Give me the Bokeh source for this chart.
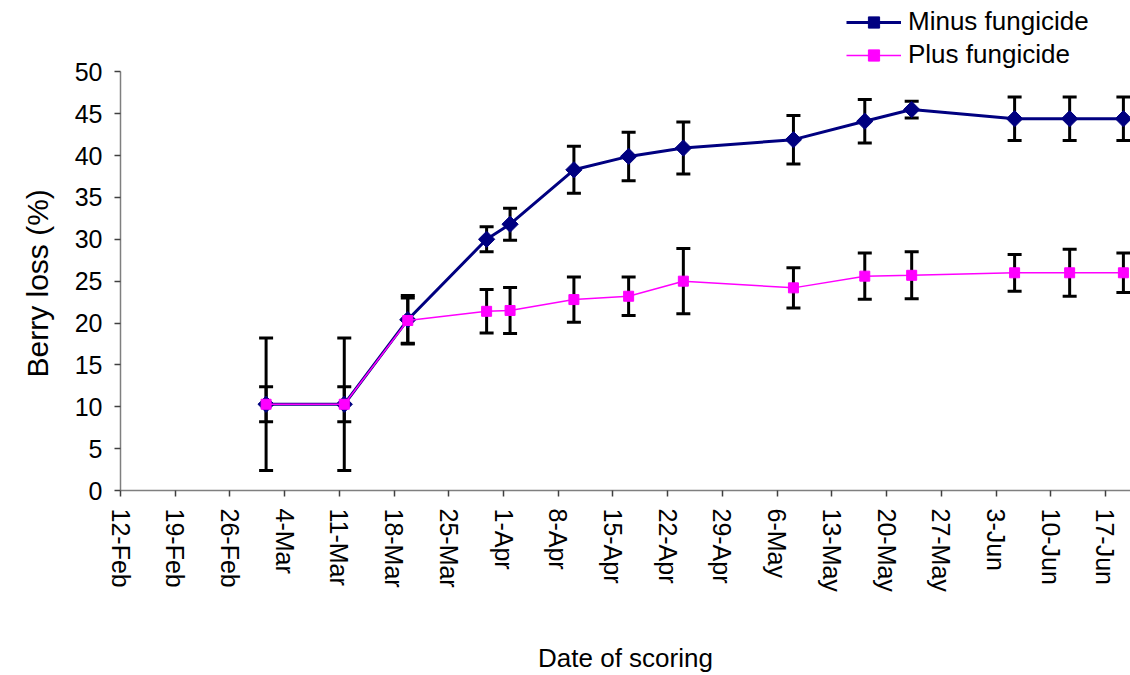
import pandas as pd
from bokeh.plotting import figure
from bokeh.models import (Range1d, FixedTicker, Whisker, TeeHead, ColumnDataSource,
                          Legend, LegendItem, Title)
from bokeh.embed import file_html
from bokeh.resources import INLINE

# ---------------- data ----------------
start_date = "2004-02-12"
dates = ["2004-03-01 15:00", "2004-03-11 15:00", "2004-03-19 18:00", "2004-03-29 20:00",
         "2004-04-01 20:00", "2004-04-10 00:00", "2004-04-17 00:00", "2004-04-24 00:00",
         "2004-05-08 02:00", "2004-05-17 05:00", "2004-05-23 05:00", "2004-06-05 09:00",
         "2004-06-12 10:00", "2004-06-19 07:00"]
minus_vals = [10.3, 10.3, 20.4, 30.0, 31.8, 38.3, 39.9, 40.9, 41.9, 44.1, 45.5, 44.4, 44.4, 44.4]
minus_err = [7.9, 7.9, 2.9, 1.5, 1.9, 2.8, 2.9, 3.1, 2.9, 2.6, 1.0, 2.6, 2.6, 2.6]
plus_vals = [10.3, 10.3, 20.3, 21.4, 21.5, 22.8, 23.2, 25.0, 24.2, 25.6, 25.7, 26.0, 26.0, 26.0]
plus_err = [2.1, 2.1, 2.7, 2.6, 2.75, 2.7, 2.3, 3.9, 2.4, 2.75, 2.8, 2.2, 2.8, 2.35]
tick_labels = ["12-Feb", "19-Feb", "26-Feb", "4-Mar", "11-Mar", "18-Mar", "25-Mar",
               "1-Apr", "8-Apr", "15-Apr", "22-Apr", "29-Apr", "6-May", "13-May",
               "20-May", "27-May", "3-Jun", "10-Jun", "17-Jun"]
y_ticks = [0, 5, 10, 15, 20, 25, 30, 35, 40, 45, 50]

# ---------------- derived ----------------
t0 = pd.Timestamp(start_date)
xd = [(pd.Timestamp(d) - t0).total_seconds() / 86400.0 for d in dates]
tick_days = [(pd.to_datetime(l + "-2004", format="%d-%b-%Y") - t0).days for l in tick_labels]

src = ColumnDataSource(dict(
    x=xd,
    minus=minus_vals,
    minus_lo=[v - e for v, e in zip(minus_vals, minus_err)],
    minus_hi=[v + e for v, e in zip(minus_vals, minus_err)],
    plus=plus_vals,
    plus_lo=[v - e for v, e in zip(plus_vals, plus_err)],
    plus_hi=[v + e for v, e in zip(plus_vals, plus_err)],
))

FONT = "Liberation Sans"
p = figure(width=1130, height=675, output_backend="svg", toolbar_location=None,
           x_range=Range1d(0, 129.2), y_range=Range1d(0, 58.52),
           min_border_left=119, min_border_right=0, min_border_top=0,
           min_border_bottom=185)
p.outline_line_color = None
p.xgrid.grid_line_color = None
p.ygrid.grid_line_color = None
p.background_fill_color = "white"
p.border_fill_color = "white"

# error bars
for lo, hi in (("minus_lo", "minus_hi"), ("plus_lo", "plus_hi")):
    w = Whisker(source=src, base="x", lower=lo, upper=hi, dimension="height",
                line_color="black", line_width=3,
                upper_head=TeeHead(size=14, line_width=3, line_color="black"),
                lower_head=TeeHead(size=14, line_width=3, line_color="black"))
    p.add_layout(w)

l1 = p.line("x", "minus", source=src, line_color="#000080", line_width=3)
s1 = p.scatter("x", "minus", source=src, marker="square", angle=0.785398, size=11.5,
               fill_color="#000080", line_color="#000080")
l2 = p.line("x", "plus", source=src, line_color="#FF00FF", line_width=1.5)
s2 = p.scatter("x", "plus", source=src, marker="square", size=10,
               fill_color="#FF00FF", line_color="#FF00FF")

legend = Legend(items=[LegendItem(label="Minus fungicide", renderers=[l1, s1]),
                       LegendItem(label="Plus fungicide", renderers=[l2, s2])],
                location=(726, 420), orientation="vertical",
                label_text_font=FONT, label_text_font_size="26px",
                label_text_color="black", glyph_width=55, glyph_height=28,
                label_height=28, label_standoff=7, spacing=2, padding=0, margin=0,
                border_line_color=None, background_fill_alpha=0)
p.add_layout(legend)

# axes
for ax in (p.xaxis[0], p.yaxis[0]):
    ax.axis_line_color = "#7f7f7f"
    ax.axis_line_width = 1.5
    ax.major_tick_line_color = "#404040"
    ax.major_tick_line_width = 1.5
    ax.major_tick_out = 6
    ax.major_tick_in = 0
    ax.minor_tick_line_color = None
    ax.major_label_text_font = FONT
    ax.major_label_text_color = "black"
    ax.axis_label_text_font = FONT
    ax.axis_label_text_font_style = "normal"
    ax.axis_label_text_color = "black"

p.xaxis.ticker = FixedTicker(ticks=tick_days)
p.xaxis.major_label_overrides = {d: l for d, l in zip(tick_days, tick_labels)}
p.xaxis.major_label_orientation = "vertical"
p.xaxis.major_label_text_font_size = "25px"
p.xaxis.major_label_standoff = 12
p.xaxis.axis_label = "Date of scoring"
p.xaxis.axis_label_text_font_size = "26px"
p.xaxis.axis_label_standoff = 48

p.yaxis.bounds = (0, 50)
p.yaxis.ticker = FixedTicker(ticks=y_ticks)
p.yaxis.major_label_text_font_size = "25px"
p.yaxis.major_label_standoff = 12

ytitle = Title(text="Berry loss (%)", align="left", offset=113, standoff=36,
               text_font=FONT, text_font_size="30px", text_font_style="normal",
               text_color="black")
p.add_layout(ytitle, "left")

open("out.html", "w").write(file_html(p, INLINE))
